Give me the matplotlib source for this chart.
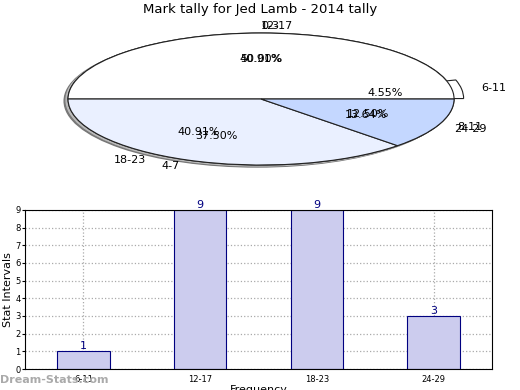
import matplotlib.pyplot as plt
from matplotlib.patches import Ellipse

# tally for this player
intervals = ['6-11', '12-17', '18-23', '24-29']
counts = [1, 9, 9, 3]

# second pie that is drawn over the first one in the original chart
old_intervals = ['0-3', '4-7', '8-11']
old_counts = [4, 3, 1]

fig = plt.figure(figsize=(5.2, 3.9), dpi=100)
fig.text(0.5, 0.975, 'Mark tally for Jed Lamb - 2014 tally', ha='center', va='center', fontsize=9.5)

# pie chart, squashed into an ellipse
ax_pie = fig.add_axes([0.038, 0.5346, 0.928, 0.423])
ax_pie.add_patch(Ellipse((-0.02, -0.03), 2.0, 2.0, color='#777777', zorder=0))
ax_pie.add_patch(Ellipse((-0.01, -0.015), 2.0, 2.0, color='#bbbbbb', zorder=0))

_, texts, _ = ax_pie.pie(counts, labels=intervals, autopct='%.2f%%', startangle=0, counterclock=True,
                         colors=['white', 'white', '#eaf0ff', '#c4d7ff'], explode=[0.05, 0, 0, 0],
                         wedgeprops={'edgecolor': '#222222', 'linewidth': 0.8},
                         textprops={'fontsize': 8})
texts[1].set_ha('left')
_, old_texts, _ = ax_pie.pie(old_counts, labels=old_intervals, autopct='%.2f%%', startangle=0,
                             counterclock=True, colors=['white', '#eaf0ff', '#c4d7ff'],
                             wedgeprops={'edgecolor': '#222222', 'linewidth': 0.8},
                             textprops={'fontsize': 8})
old_texts[0].set_ha('left')
ax_pie.set_aspect('auto')
ax_pie.set_xlim(-1.25, 1.25)
ax_pie.set_ylim(-1.25, 1.25)
ax_pie.axis('off')

# bar chart
ax = fig.add_axes([0.048, 0.0538, 0.898, 0.408])
x = range(len(counts))
ax.bar(x, counts, width=0.45, color='#ccccee', edgecolor='#000080', linewidth=0.8, zorder=2)
for xi, c in zip(x, counts):
    ax.text(xi, c, str(c), ha='center', va='bottom', color='#000080', fontsize=8)
ax.set_xlim(-0.5, 3.5)
ax.set_ylim(0, 9)
ax.set_xticks(list(x))
ax.set_xticklabels(intervals, fontsize=6)
ax.set_yticks(range(10))
ax.tick_params(axis='y', labelsize=6, length=2, pad=1)
ax.tick_params(axis='x', length=0, pad=4)
ax.grid(True, linestyle=':', color='#aaaaaa', linewidth=0.9, zorder=3)
ax.set_ylabel('Stat Intervals', fontsize=8, labelpad=2)
ax.set_xlabel('Frequency', fontsize=8, labelpad=1)

fig.text(0.0, 0.025, 'Dream-Stats.com', fontsize=8, color='#aaaaaa', fontweight='bold', va='center')

fig.savefig('out.png', dpi=100)
